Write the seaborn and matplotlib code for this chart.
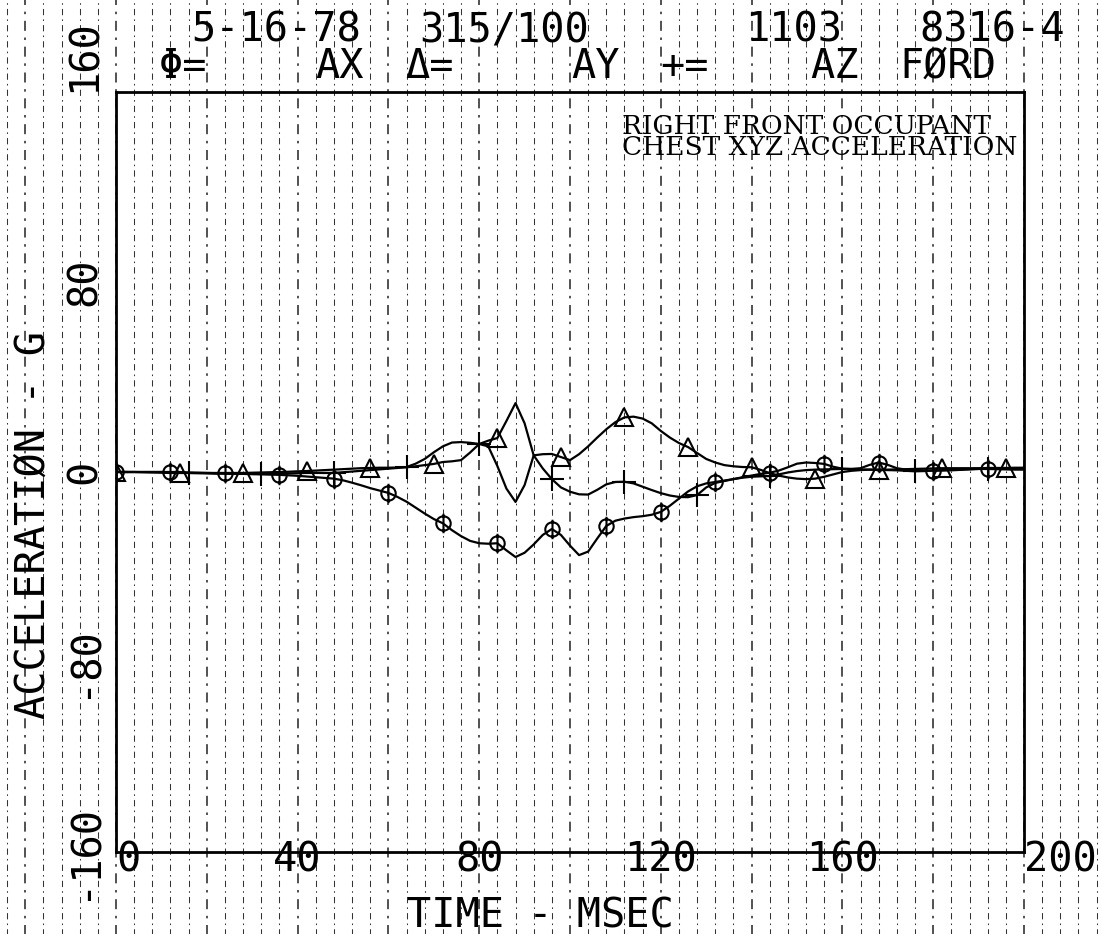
import numpy as np
import pandas as pd
import seaborn as sns
import matplotlib.pyplot as plt
from matplotlib.path import Path

# sample times (msec) and chest accelerations (G)
time_ms = list(range(0, 201, 2))

ax_g = [0, 0, 0, 0, 0, 0, 0, 0, -0.2, -0.3,
        -0.4, -0.5, -0.6, -0.7, -0.8, -0.9, -1.0, -1.1, -1.2, -1.4,
        -1.6, -1.9, -2.2, -2.5, -2.8, -3.5, -4.5, -5.6, -6.8, -7.8,
        -8.8, -10.5, -12.5, -15, -17.5, -19.8, -21.6, -24.5, -27, -29,
        -30, -30.2, -30, -33, -35.8, -34, -30.5, -26.5, -24, -26.5,
        -31, -35, -33.5, -28, -22.7, -20.5, -19.6, -19, -18.6, -18,
        -16.8, -14.2, -11.2, -8.2, -6, -4.8, -4.2, -3.6, -3, -2.2,
        -1.5, -0.8, -0.3, 0.6, 2, 3.5, 4, 3.8, 3.4, 2.2,
        1.4, 1.3, 1.6, 3, 4, 3, 1.6, 1, 0.8, 0.6,
        0.6, 0.6, 0.7, 0.9, 1.1, 1.3, 1.3, 1.2, 1.1, 1,
        1]

ay_g = [0, 0, 0, -0.1, -0.2, -0.3, -0.4, -0.4, -0.4, -0.4,
        -0.4, -0.4, -0.4, -0.4, -0.4, -0.3, -0.2, -0.1, 0, 0.1,
        0.3, 0.4, 0.6, 0.8, 1, 1.2, 1.4, 1.6, 1.7, 1.8,
        1.8, 1.9, 2, 2.4, 2.9, 3.4, 4.2, 4.5, 5, 8.2,
        11.8, 13.2, 14.3, 21.5, 29, 20.5, 7, 7.5, 7.6, 6.3,
        5, 7.5, 10.8, 14.5, 18, 21, 23, 23.3, 22.5, 20.5,
        17.3, 14.5, 12.2, 10.5, 8, 5.5, 4, 2.9, 2.4, 2.1,
        2, 0.9, -0.5, -1.5, -2.3, -2.8, -3, -2.8, -2, -1,
        0, 0.5, 0.8, 1, 1, 1, 1.1, 1.2, 1.3, 1.4,
        1.5, 1.6, 1.6, 1.6, 1.6, 1.6, 1.7, 1.7, 1.7, 1.8,
        1.8]

az_g = [0, 0, 0, 0, 0, 0, -0.2, -0.3, -0.4, -0.5,
        -0.6, -0.7, -0.7, -0.8, -0.8, -0.8, -0.8, -0.8, -0.7, -0.6,
        -0.5, -0.4, -0.4, -0.4, -0.4, -0.1, 0.2, 0.5, 0.8, 1.1,
        1.4, 1.7, 2.1, 3.5, 5.5, 8.3, 10.8, 12.4, 12.6, 12.3,
        11.8, 10.8, 2.5, -7, -12.6, -5.5, 7, 1.5, -3, -6.5,
        -8.3, -9.4, -9.5, -7.5, -5.2, -4.2, -4.1, -4.8, -6.2, -7.6,
        -8.9, -9.9, -10.5, -10.6, -9.7, -6.5, -4.6, -3.8, -3, -2.4,
        -2, -1.8, -1.7, -1, -0.2, 0.4, 0.8, 1, 1.1, 1.2,
        1.3, 1.2, 1.1, 1, 0.9, 0.8, 0.7, 0.5, 0.3, 0.4,
        0.6, 0.8, 1, 1.1, 1.2, 1.3, 1.3, 1.3, 1.3, 1.3,
        1.3]

x_ticks = [0, 40, 80, 120, 160, 200]
y_ticks = [-160, -80, 0, 80, 160]
header_top = ['5-16-78', '315/100', '1103', '8316-4']
header_legend = ['Φ=', 'AX', 'Δ=', 'AY', '+=', 'AZ', 'FØRD']
caption = ['RIGHT FRONT OCCUPANT', 'CHEST XYZ ACCELERATION']

df = pd.DataFrame({'time': time_ms, 'AX': ax_g, 'AY': ay_g, 'AZ': az_g})

sns.set_theme(style='white')
plt.rcParams['font.family'] = ['DejaVu Sans Mono', 'DejaVu Sans']
plt.rcParams['text.color'] = 'black'
FS = 29

fig = plt.figure(figsize=(11.02, 9.34), dpi=100)
ax = fig.add_axes([116 / 1102, 1 - 852 / 934, 908 / 1102, 760 / 934])


def fx(x):
    return x / 1102


def fy(y):
    return 1 - y / 934


# vertical dashed lines of the plotter paper, every 4 msec across the sheet
for t in range(-28, 217, 4):
    ax.axvline(t, ymin=-0.115, ymax=1.125, clip_on=False, color='black',
               lw=1.2 if t % 20 == 0 else 0.75, ls=(0, (6, 4, 1.5, 4)),
               alpha=0.8, zorder=0)

# circle with a vertical bar, as used by the plotter for AX
phi = Path.make_compound_path(Path.unit_circle(),
                              Path([[0, -1.35], [0, 1.35]], [Path.MOVETO, Path.LINETO]))

for col, mk, step, size in [('AX', phi, 6, 14), ('AY', '^', 7, 13), ('AZ', '+', 8, 17)]:
    sns.lineplot(data=df, x='time', y=col, ax=ax, color='black', linewidth=1.6,
                 marker=mk, markevery=step, markersize=size,
                 markerfacecolor='none', markeredgecolor='black',
                 markeredgewidth=1.5, estimator=None)

ax.set_xlim(0, 200)
ax.set_ylim(-160, 160)
ax.set_xticks(x_ticks)
ax.set_yticks(y_ticks)
ax.set_xticklabels([str(v) for v in x_ticks])
ax.set_yticklabels([str(v) for v in y_ticks], rotation=90, va='center')
xl = ax.get_xticklabels()
xl[0].set_ha('left')
xl[-1].set_ha('left')
ax.get_yticklabels()[-1].set_va('bottom')
ax.set_xlabel('')
ax.set_ylabel('')
ax.tick_params(direction='in', length=10, width=1.5, colors='black', labelsize=FS)
ax.tick_params(axis='x', pad=-8)
ax.tick_params(axis='y', pad=8)
for s in ax.spines.values():
    s.set_linewidth(2)
    s.set_color('black')
ax.set_facecolor('none')

# plotter header
for txt, x in zip(header_top, [276, 504, 794, 992]):
    fig.text(fx(x), fy(42), txt, ha='center', va='baseline', fontsize=FS)
for txt, x in zip(header_legend, [183, 340, 430, 596, 684, 835, 948]):
    fig.text(fx(x), fy(78), txt, ha='center', va='baseline', fontsize=FS)

fig.text(fx(34), fy(525), 'ACCELERATIØN - G', rotation=90, ha='center', va='center', fontsize=FS)
fig.text(fx(540), fy(927), 'TIME - MSEC', ha='center', va='baseline', fontsize=FS)

# typed caption, one text block with tight line spacing
fig.text(fx(622), fy(114), '\n'.join(caption), family='DejaVu Serif', fontsize=19,
         ha='left', va='top', linespacing=0.78)

fig.savefig('out.png', dpi=100)
